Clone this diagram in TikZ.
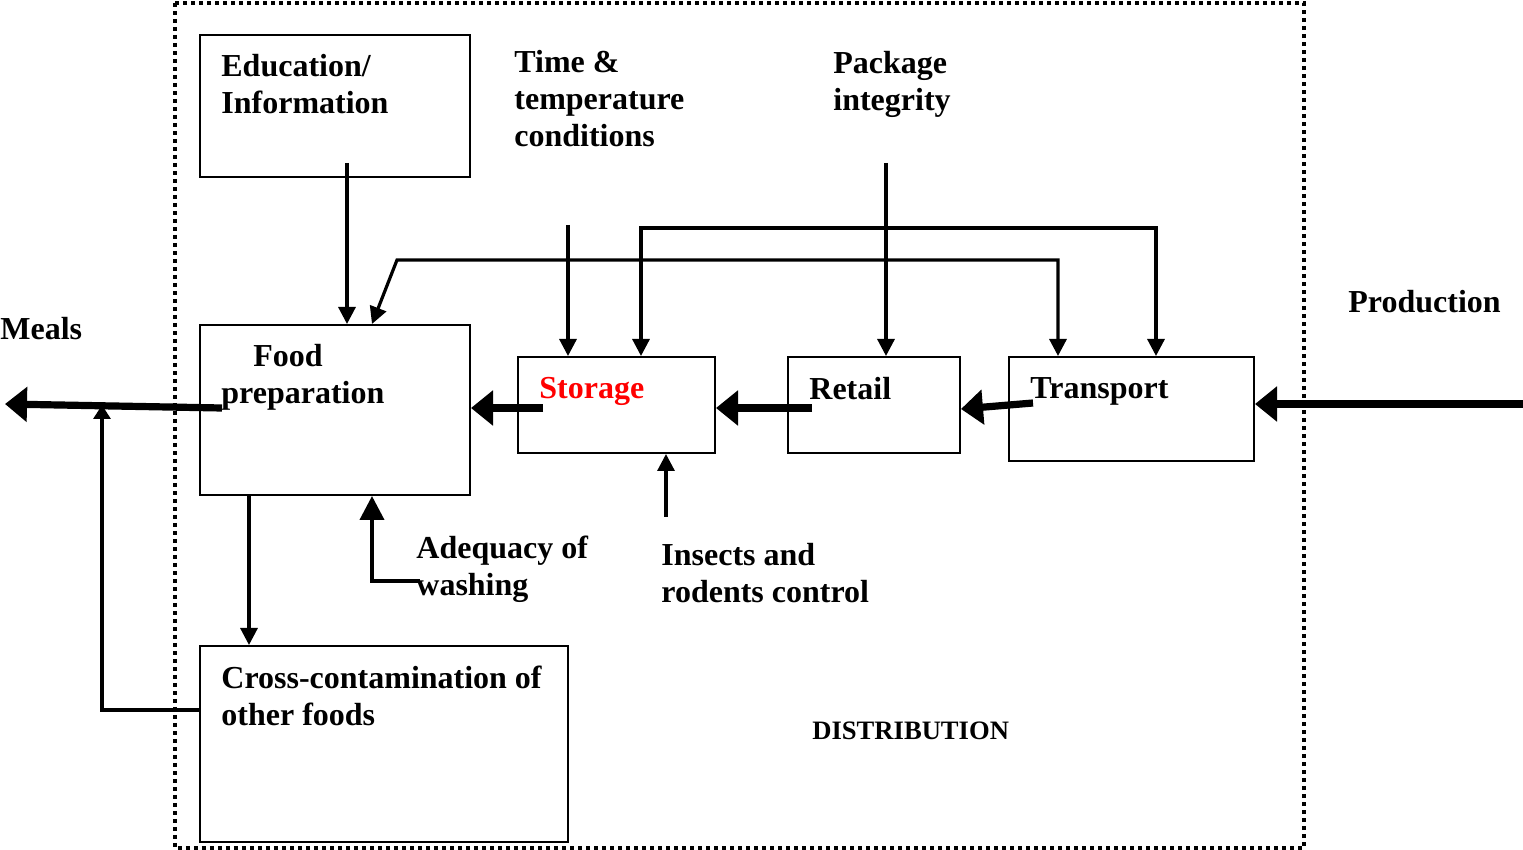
\documentclass[tikz,border=0pt]{standalone}
\usepackage{fontspec}
\setmainfont{Liberation Serif}
\usetikzlibrary{arrows.meta}

\tikzset{
    box/.style={rectangle, draw=black, line width=1pt, inner sep=0pt},
    lbl/.style={anchor=north west, inner sep=0pt, align=left,
        font=\fontsize{16}{18.5}\selectfont\bfseries},
    thinarr/.style={line width=1.6pt, -{Triangle[length=8.5pt,width=8.5pt]}},
    twoarr/.style={line width=1.6pt,
        {Triangle[length=8.5pt,width=8.5pt]}-{Triangle[length=8.5pt,width=8.5pt]}},
    midarr/.style={line width=2pt, -{Triangle[length=12pt,width=12pt]}},
    smallarr/.style={line width=1.6pt, -{Triangle[length=7pt,width=8.5pt]}},
    fatarr/.style={line width=3.6pt, -{Triangle[length=11pt,width=17pt]}},
}

\begin{document}
\begin{tikzpicture}[x=0.5pt, y=-0.5pt]
    \useasboundingbox (0,0) rectangle (1523,850);

    % distribution frame
    \draw[line width=2pt, dash pattern=on 2pt off 2pt] (175,3) rectangle (1304,848);
    \node[anchor=north west, inner sep=0pt, font=\fontsize{13.3}{15}\selectfont\bfseries] (distr) at (812,721) {DISTRIBUTION};

    % boxes
    \node[box, minimum width=135pt, minimum height=71pt] (edu) at (335,106) {};
    \node[box, minimum width=135pt, minimum height=85pt] (food) at (335,410) {};
    \node[box, minimum width=98.5pt, minimum height=48pt] (stor) at (616.5,405) {};
    \node[box, minimum width=86pt, minimum height=48pt] (ret) at (874,405) {};
    \node[box, minimum width=122.5pt, minimum height=52pt] (trans) at (1131.5,409) {};
    \node[box, minimum width=184pt, minimum height=98pt] (cross) at (384,744) {};

    % texts
    \node[lbl] (edut) at (221,54) {Education/\\Information};
    \node[lbl] (foodt) at (221,344) {\hspace*{16pt}Food\\preparation};
    \node[lbl, text=red] (stort) at (539,377) {Storage};
    \node[lbl] (rett) at (809,377) {Retail};
    \node[lbl] (transt) at (1030,377) {Transport};
    \node[lbl] (crosst) at (221,666) {Cross-contamination of\\other foods};
    \node[lbl] (ttc) at (514,50) {Time \&\\temperature\\conditions};
    \node[lbl] (pkg) at (833,51) {Package\\integrity};
    \node[lbl] (adeq) at (416,536) {Adequacy of\\washing};
    \node[lbl] (insect) at (661,543) {Insects and\\rodents control};
    \node[lbl] (meals) at (0,317) {Meals};
    \node[lbl] (prod) at (1348,290) {Production};

    % free ends and bends
    \coordinate (eduout) at (347,163);
    \coordinate (ttcout) at (568,225);
    \coordinate (pkgout) at (886,163);
    \coordinate (k1) at (641,228);
    \coordinate (k2) at (1156,228);
    \coordinate (k3) at (397,260);
    \coordinate (k4) at (1058,260);
    \coordinate (k5) at (372,300);
    \coordinate (insout) at (666,517);
    \coordinate (adqin) at (420,581);
    \coordinate (k6) at (372,581);
    \coordinate (k7) at (249,570);
    \coordinate (k8) at (102,710);
    \coordinate (k9) at (102,405);
    \coordinate (foodout) at (222,408);
    \coordinate (mealsend) at (5,404);
    \coordinate (storout) at (543,408);
    \coordinate (retout) at (812,408);
    \coordinate (trout) at (1033,403);
    \coordinate (prodin) at (1523,404);

    % thin connectors
    \draw[thinarr] (eduout) -- (eduout |- food.north);
    \draw[thinarr] (ttcout) -- (ttcout |- stor.north);
    \draw[thinarr] (pkgout) -- (pkgout |- ret.north);
    \draw[twoarr] (k1 |- stor.north) -- (k1) -- (k2) -- (k2 |- trans.north);
    \draw[twoarr] (k5 |- food.north) -- (k3) -- (k4) -- (k4 |- trans.north);
    \draw[thinarr] (insout) -- (insout |- stor.south);
    \draw[thinarr] (k7 |- food.south) -- (k7 |- cross.north);
    \draw[midarr] (adqin) -- (k6) -- (k6 |- food.south);
    \draw[smallarr] (k8 -| cross.west) -- (k8) -- (k9);

    % main flow
    \draw[fatarr] (prodin) -- (prodin -| trans.east);
    \draw[fatarr] (trout) -- ([yshift=-2pt]ret.east);
    \draw[fatarr] (retout) -- (retout -| stor.east);
    \draw[fatarr] (storout) -- (storout -| food.east);
    \draw[fatarr] (foodout) -- (mealsend);
\end{tikzpicture}
\end{document}
